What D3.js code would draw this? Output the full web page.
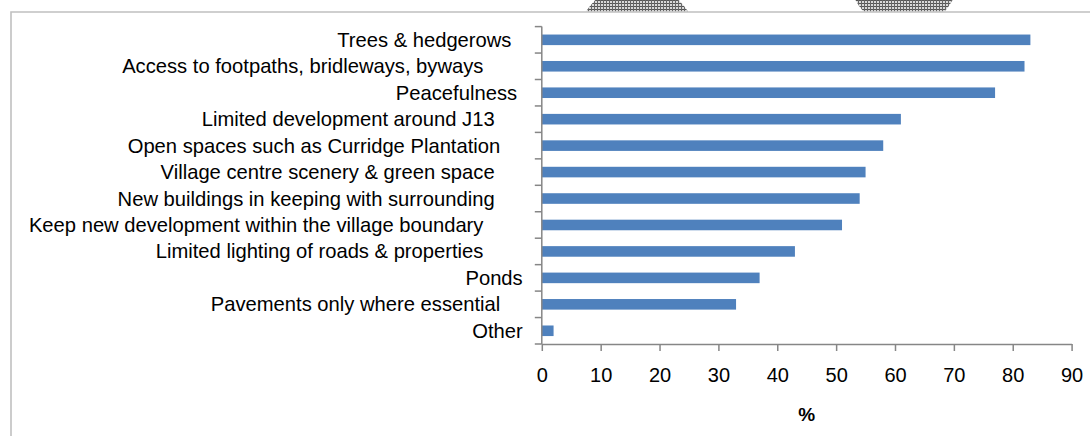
<!DOCTYPE html>
<meta charset="utf-8">
<style>
body { margin: 0; background: #fff; }
svg { display: block; }
.label {
  font-family: "Liberation Sans", Arial, sans-serif;
  font-size: 20.2px;
  fill: #000;
  white-space: pre;
}
.x-axis text {
  font-family: "Liberation Sans", Arial, sans-serif;
  font-size: 20px;
  fill: #000;
}
.x-axis path, .x-axis line, .y-axis line { stroke: #868686; stroke-width: 1.5px; }
.bar { fill: #4f81bd; }
.frame { fill: none; stroke: #c0c0c0; stroke-width: 1.6px; }
.title {
  font-family: "Liberation Sans", Arial, sans-serif;
  font-size: 19px;
  font-weight: bold;
}
</style>
<svg width="1090" height="436"></svg>
<script src="https://cdn.jsdelivr.net/npm/d3@7"></script>
<script>

// categories (trailing spaces are part of the original labels)
var categories = [
  "Trees & hedgerows  ",
  "Access to footpaths, bridleways, byways       ",
  "Peacefulness ",
  "Limited development around J13     ",
  "Open spaces such as Curridge Plantation    ",
  "Village centre scenery & green space     ",
  "New buildings in keeping with surrounding     ",
  "Keep new development within the village boundary       ",
  "Limited lighting of roads & properties       ",
  "Ponds",
  "Pavements only where essential    ",
  "Other"
];
var values = [83, 82, 77, 61, 58, 55, 54, 51, 43, 37, 33, 2];
var xTicks = [0, 10, 20, 30, 40, 50, 60, 70, 80, 90];
var xTitle = "%";

var svg = d3.select("svg"),
    width = +svg.attr("width"),
    height = +svg.attr("height");

// hatch pattern for the scanned blobs on the top edge
var defs = svg.append("defs");
var pat = defs.append("pattern")
    .attr("id", "hatch")
    .attr("patternUnits", "userSpaceOnUse")
    .attr("width", 3).attr("height", 3);
pat.append("rect").attr("width", 3).attr("height", 3).attr("fill", "#d8d8d8");
pat.append("rect").attr("width", 3).attr("height", 1).attr("fill", "#555");
pat.append("rect").attr("width", 1).attr("height", 3).attr("fill", "#666");

defs.append("clipPath").attr("id", "topclip")
  .append("rect").attr("x", 0).attr("y", 0).attr("width", width).attr("height", 11.5);

var blobs = svg.append("g").attr("clip-path", "url(#topclip)");
blobs.append("circle").attr("cx", 637).attr("cy", 44).attr("r", 60.5).attr("fill", "url(#hatch)");
blobs.append("circle").attr("cx", 904).attr("cy", -25).attr("r", 54.6).attr("fill", "url(#hatch)");

// outer frame (cut by the window on right and bottom)
svg.append("path")
    .attr("class", "frame")
    .attr("d", "M11," + (height + 2) + "V12H" + (width + 2));

var x = d3.scaleLinear()
    .domain([0, 90])
    .range([541.8, 1071.6]);

var y = d3.scaleBand()
    .domain(categories)
    .range([26.6, 344])
    .paddingInner(0.6)
    .paddingOuter(0.3);

// bars
svg.append("g")
  .selectAll("rect")
  .data(values)
  .enter().append("rect")
    .attr("class", "bar")
    .attr("x", x(0))
    .attr("y", function(d, i) { return y(categories[i]); })
    .attr("width", function(d) { return x(d) - x(0); })
    .attr("height", y.bandwidth());

// x axis
var xAxis = svg.append("g")
    .attr("class", "x-axis")
    .attr("transform", "translate(0," + y.range()[1] + ")")
    .call(d3.axisBottom(x).tickValues(xTicks).tickSize(7).tickPadding(17).tickSizeOuter(0));

// y axis: line + ticks on band boundaries
var yAxis = svg.append("g").attr("class", "y-axis");
yAxis.append("line")
    .attr("x1", x(0)).attr("x2", x(0))
    .attr("y1", y.range()[0]).attr("y2", y.range()[1]);
yAxis.selectAll("line.tick")
  .data(d3.range(categories.length + 1))
  .enter().append("line")
    .attr("class", "tick")
    .attr("x1", x(0) - 7).attr("x2", x(0))
    .attr("y1", function(i) { return y.range()[0] + i * y.step(); })
    .attr("y2", function(i) { return y.range()[0] + i * y.step(); });

// category labels
svg.append("g")
  .selectAll("text")
  .data(categories)
  .enter().append("text")
    .attr("class", "label")
    .attr("x", 522.7)
    .attr("y", function(d) { return y(d) + y.bandwidth() / 2; })
    .attr("dy", "0.35em")
    .attr("text-anchor", "end")
    .text(function(d) { return d; });

svg.append("text")
    .attr("class", "title")
    .attr("x", (x.range()[0] + x.range()[1]) / 2)
    .attr("y", 421)
    .attr("text-anchor", "middle")
    .text(xTitle);

</script>
